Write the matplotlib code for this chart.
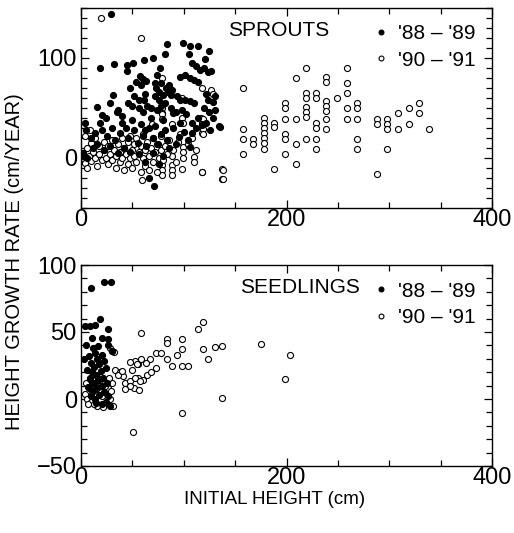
import matplotlib
matplotlib.use("Agg")
import matplotlib.pyplot as plt
from matplotlib.ticker import MultipleLocator
from matplotlib.lines import Line2D

plt.rcParams['font.family'] = ['Liberation Sans', 'DejaVu Sans']

# ---------------- SPROUTS ----------------
sprout_8889_x = [29, 83.6, 99, 106, 114, 125, 82, 104.7, 121, 69.6, 61, 51, 44.5, 32.5, 18.5, 77, 108, 112, 116, 120,
                 124, 44.5, 127, 74, 57, 60, 96.6, 101, 106, 110, 114, 47.8, 54, 58, 63, 72, 73, 78, 76, 83,
                 85, 86, 88, 89, 31.5, 46, 52, 56, 61, 64, 68, 62, 72, 76, 82, 80, 93, 96, 101, 106,
                 110, 122, 124, 128, 130, 16, 36, 40, 50, 56, 60, 74, 78, 88, 92, 98, 102, 120, 125, 35,
                 18.5, 4, 62.4, 82, 90, 108, 108, 134, 95, 106, 66, 71, 135.6, 10, 14, 20, 25, 30, 33, 38,
                 40, 44, 46, 50, 52, 55, 58, 60, 63, 66, 68, 70, 72, 75, 78, 80, 84, 86, 90, 92,
                 96, 100, 104, 112, 114, 118, 122, 126, 128, 130, 12, 16, 22, 28, 36, 42, 48, 56, 62, 70,
                 76, 80, 2, 6, 5, 24, 28, 20, 2]
sprout_8889_y = [144, 114, 115, 112, 112, 107, 104, 104, 99, 100, 98, 95, 93, 94, 90, 90, 95, 92, 88, 90,
                 86, 87, 87, 83, 82, 79, 81, 83, 80, 78, 76, 70, 76, 73, 77, 75, 70, 75, 66, 70,
                 66, 73, 63, 68, 63, 55, 62, 58, 58, 52, 50, 64, 62, 58, 55, 63, 62, 58, 58, 57,
                 55, 64, 58, 56, 62, 51, 48, 42, 52, 50, 46, 48, 52, 50, 46, 48, 44, 50, 46, 46,
                 35, 35, 28, 28, 45, 35, 25, 32, 21, 11, -20, -28, 30.7, 20, 25, 28, 22, 30, 18, 25,
                 35, 30, 20, 38, 28, 15, 34, 22, 12, 30, 40, 20, 32, 14, 24, 38, 18, 10, 30, 14,
                 35, 26, 18, 30, 40, 33, 35, 28, 40, 48, 10, 14, 8, 12, 5, 10, 6, 4, -4, 5,
                 -6, 2, 5, 0, 28, 40, 55, 43, 2]

sprout_9091_x = [19.5, 58.5, 79, 118, 127, 98, 78.6, 78.6, 98, 117, 69, 79, 79, 88.5, 99, 117.7, 117.7, 117.7, 8.8, 88.5,
                 99, 99, 99, 109.6, 109.6, 98, 117.7, 137, 137, 59, 78.7, 78.7, 78.7, 88.5, 88.5, 88.5, 128, 118.3, 118.3, 118.3,
                 118.3, 218.5, 258.5, 208.8, 238.7, 238.7, 258.5, 157.4, 218.5, 218.5, 229, 229, 238.7, 238.7, 238.7, 248.8, 258.5, 199, 199, 268.3,
                 268.3, 258.5, 218.5, 218.5, 218.5, 208.8, 199, 177.9, 177.9, 177.9, 177.9, 177.9, 177.9, 177.9, 188.3, 188.3, 157.4, 157.4, 157.4, 167.5,
                 167.5, 199, 199, 199, 208.8, 218.5, 229, 229, 229, 229, 238.7, 238.7, 258.5, 268.3, 268.3, 268.3, 188.3, 208.8, 288.5, 288.5,
                 298.2, 298.2, 298.2, 308.6, 308.6, 319, 319, 329, 329, 339, 298.2, 288.5, 118, 137.8, 137.8,
                 2, 2, 4, 6, 8, 10, 10, 12, 14, 14, 16, 18, 18, 20, 22, 22, 24, 26, 26, 28,
                 30, 30, 32, 34, 34, 36, 38, 38, 40, 40, 42, 42, 44, 46, 46, 48, 48, 50, 50, 52,
                 52, 54, 54, 56, 58, 58, 60, 60, 62, 62, 64, 66, 66, 68, 70, 70, 72, 74, 74, 76,
                 78, 78, 80, 82, 84, 86, 90, 92, 94, 96, 104, 108, 112, 4, 6]
sprout_9091_y = [140, 120, 80, 70, 68, 60, 50, 45, 40, 40, 34, 44, 39, 34, 35, 35, 30, 25, 28, 2,
                 11, 6, 0, 1.3, -3.7, -11, -14, -11, -21, -22, -7, -12, -17, -7, -12, -17, 64, 39, 34, 29,
                 24, 89.7, 89.7, 79.7, 80.7, 75.7, 74.7, 69.7, 64.7, 59.7, 64.7, 59.7, 56.7, 51.7, 46.7, 59.7, 64.7, 54.7, 49.7, 54.7,
                 49.7, 49.7, 51.3, 46.3, 41.3, 39, 39, 39.7, 34.7, 29.7, 24.7, 19.7, 14.7, 9, 34.7, 31, 28.7, 19, 3.7, 19,
                 14, 24, 19, 3.7, 13.7, 19, 34.7, 29.7, 19, 9, 39, 29, 39, 39, 19, 9, -11, -6.3, 39, 34,
                 39, 34, 29, 44.7, 29, 49.7, 34, 54.7, 44.7, 29, 9, -16.3, -14, -12, -21.3,
                 0, 5, -5, 10, 2, -3, 15, 6, 0, 20, -8, 4, 12, -2, 8, 16, 0, -6, 12, 4,
                 18, -2, 8, -10, 2, 14, -4, 6, 20, 0, -12, 10, 4, -6, 16, 0, 22, 8, -10, 2,
                 14, -4, 20, 6, -14, 12, 0, 24, 8, -8, 16, 2, -12, 10, -4, 20, 6, -14, 14, 0,
                 8, 22, -2, 12, 4, 18, 8, -4, 16, 24, 14, 20, 8, 22, -10]

# ---------------- SEEDLINGS ----------------
seed_8889_x = [9.8, 22.7, 29.3, 3.9, 8.8, 13.7, 18.5, 26.6, 10.4, 20, 26.6, 17, 12, 14, 8, 16, 20, 10, 13, 18,
               22, 6, 11, 15, 19, 24, 9, 13, 17, 21, 7, 12, 16, 20, 25, 10, 14, 18, 22, 26,
               15, 20, 24, 28, 30, 26, 5, 3]
seed_8889_y = [83, 87.4, 87.4, 54.4, 54.4, 55, 60, 52, 45.8, 45.8, 45, 39.6, 38, 34, 32, 30, 33, 27, 24, 26,
               28, 22, 20, 18, 21, 23, 15, 12, 14, 16, 9, 6, 8, 10, 12, 2, 0, 3, 5, 2,
               -3, -4, -2, -5, 36, 40, 40, 30]

seed_9091_x = [58.5, 113.8, 118.3, 83.6, 83.6, 98.2, 98.2, 118.3, 130.7, 137.3, 123.6, 93.4, 88.5, 98.2, 104, 73.2, 78, 83.6, 67.3, 63,
               73.2, 50, 55, 58, 53, 33, 38, 41, 36, 43, 48, 52, 56, 60, 64, 68, 55, 137.3, 98.2, 50.7,
               175.6, 203, 198.4, 28, 32, 30, 39.7, 47.8, 52.7, 57.6, 47.8, 43, 47.8, 54.3,
               4, 6, 8, 10, 12, 14, 16, 18, 20, 22, 24, 26, 28, 30, 5, 9, 13, 17, 21, 25,
               29, 31, 27, 7, 19, 23, 11, 15]
seed_9091_y = [49, 52.5, 57.4, 44.5, 42, 44.5, 37.6, 37.6, 38.8, 39.6, 29.7, 32.7, 24.7, 24.7, 24.7, 34.7, 34.7, 30, 29.7, 27.2,
               23.5, 22, 26, 30, 28, 22, 20, 17, 18, 12, 10, 8, 7, 14, 18, 20, 16, 0.7, -10.6, -24.5,
               40.8, 32.9, 14.8, 38, 35, 36, 21, 13.6, 16, 13.6, 10, 7.4, 27.7, 26,
               4, 0, 8, -2, 12, 4, -5, 10, 2, 14, -3, 8, 0, 12, 12, 16, -4, 16, -6, 4,
               6, -5, 16, -4, 6, 10, 6, 10]

legend_labels = ["'88 \u2013 '89", "'90 \u2013 '91"]
panel_titles = ["SPROUTS", "SEEDLINGS"]

fig = plt.figure(figsize=(5.14, 5.33), dpi=100)
ax1 = fig.add_axes([81/514, (533-208)/533, 411/514, 200/533])
ax2 = fig.add_axes([81/514, (533-466)/533, 411/514, 201/533])

ms = 19
lw = 0.8

def style(ax, ylim, yticks):
    ax.set_xlim(0, 400)
    ax.set_ylim(*ylim)
    ax.set_xticks([0, 200, 400])
    ax.xaxis.set_minor_locator(MultipleLocator(50))
    ax.set_yticks(yticks)
    ax.yaxis.set_minor_locator(MultipleLocator(10))
    ax.tick_params(which='both', direction='in', top=True, right=True, labelsize=17, width=0.9)
    ax.tick_params(axis='x', which='both', pad=0.5)
    ax.tick_params(axis='y', which='both', pad=3)
    ax.tick_params(which='major', length=6)
    ax.tick_params(which='minor', length=4.5)
    for s in ax.spines.values():
        s.set_linewidth(1.0)

title_x = [(228 - 81) / 411, (240 - 81) / 411]
for ax, fx, fy, ox, oy, title, tx in [
    (ax1, sprout_8889_x, sprout_8889_y, sprout_9091_x, sprout_9091_y, panel_titles[0], title_x[0]),
    (ax2, seed_8889_x, seed_8889_y, seed_9091_x, seed_9091_y, panel_titles[1], title_x[1]),
]:
    ax.scatter(ox, oy, s=ms, facecolors='white', edgecolors='black', linewidths=lw, zorder=2)
    ax.scatter(fx, fy, s=ms, facecolors='black', edgecolors='black', linewidths=lw, zorder=3)
    handles = [Line2D([], [], marker='o', ls='', ms=3.5, mfc='black', mec='black', mew=0.8),
               Line2D([], [], marker='o', ls='', ms=3.5, mfc='white', mec='black', mew=0.8)]
    ax.legend(handles, legend_labels, loc='upper right', bbox_to_anchor=(0.99, 0.98), frameon=False,
              fontsize=15, handletextpad=0.3, borderaxespad=0.2, handlelength=1.0, labelspacing=0.35)
    ax.text(tx, 0.89, title, transform=ax.transAxes, ha='left', va='center', fontsize=15)

style(ax1, (-50, 150), [0, 100])
style(ax2, (-50, 100), [-50, 0, 50, 100])

fig.text(0.028, (533-262)/533, 'HEIGHT GROWTH RATE (cm/YEAR)', rotation=90, ha='center', va='center', fontsize=14.5)
fig.text(275/514, 1-499/533, 'INITIAL HEIGHT (cm)', ha='center', va='center', fontsize=13.5)

fig.savefig('out.png', dpi=100)
